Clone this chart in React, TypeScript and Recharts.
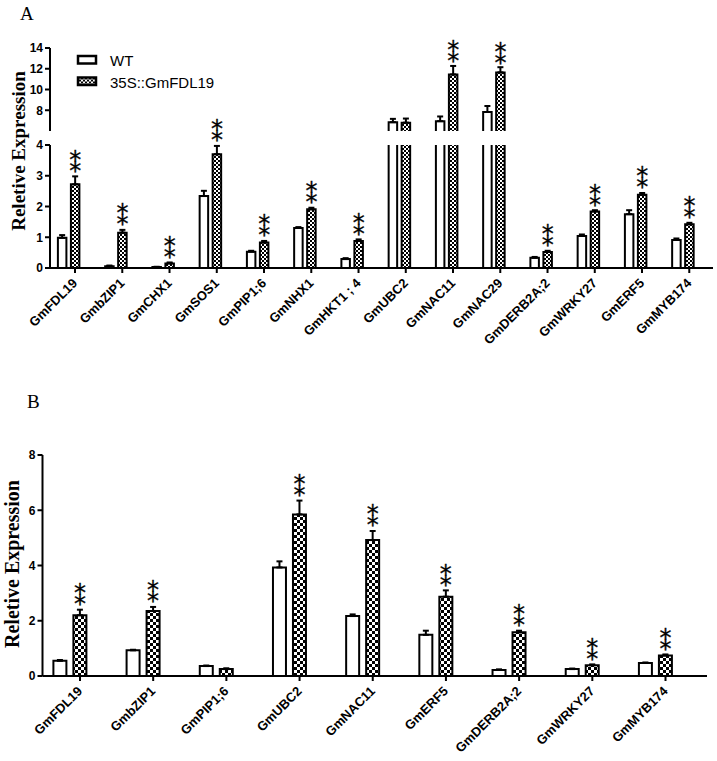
import React from 'react';
import { BarChart, Bar, XAxis, YAxis, ErrorBar, LabelList, Legend } from 'recharts';

const seriesNames = ['WT', '35S::GmFDL19'];

// Panel A
const genesA = ['GmFDL19', 'GmbZIP1', 'GmCHX1', 'GmSOS1', 'GmPIP1;6', 'GmNHX1', 'GmHKT1 ; 4', 'GmUBC2', 'GmNAC11', 'GmNAC29', 'GmDERB2A;2', 'GmWRKY27', 'GmERF5', 'GmMYB174'];
const wtA = [0.98, 0.06, 0.03, 2.34, 0.53, 1.3, 0.29, 6.85, 6.95, 7.83, 0.33, 1.04, 1.75, 0.91];
const wtErrA = [0.09, 0.02, 0.01, 0.17, 0.03, 0.03, 0.03, 0.32, 0.45, 0.58, 0.03, 0.05, 0.13, 0.05];
const mtA = [2.72, 1.15, 0.15, 3.7, 0.83, 1.91, 0.88, 6.8, 11.45, 11.65, 0.52, 1.84, 2.38, 1.42];
const mtErrA = [0.26, 0.09, 0.03, 0.27, 0.05, 0.05, 0.05, 0.4, 0.82, 0.5, 0.04, 0.04, 0.06, 0.05];
const sigA = [true, true, true, true, true, true, true, false, true, true, true, true, true, true];
const ticksALow = [0, 1, 2, 3, 4];
const ticksAHigh = [6, 8, 10, 12, 14];

// Panel B
const genesB = ['GmFDL19', 'GmbZIP1', 'GmPIP1;6', 'GmUBC2', 'GmNAC11', 'GmERF5', 'GmDERB2A;2', 'GmWRKY27', 'GmMYB174'];
const wtB = [0.55, 0.93, 0.36, 3.93, 2.17, 1.49, 0.22, 0.25, 0.47];
const wtErrB = [0.03, 0.02, 0.02, 0.22, 0.06, 0.15, 0.02, 0.02, 0.02];
const mtB = [2.2, 2.35, 0.25, 5.85, 4.92, 2.87, 1.58, 0.39, 0.74];
const mtErrB = [0.2, 0.15, 0.03, 0.5, 0.33, 0.23, 0.06, 0.03, 0.04];
const sigB = [true, true, false, true, true, true, true, true, true];
const ticksB = [0, 2, 4, 6, 8];

type Row = { gene: string; wt: number; wtErr: number; mt: number; mtErr: number; sig: boolean };
const buildRows = (g: string[], w: number[], we: number[], m: number[], me: number[], s: boolean[]): Row[] =>
  g.map((gene, i) => ({ gene, wt: w[i], wtErr: we[i], mt: m[i], mtErr: me[i], sig: s[i] }));

const rowsA = buildRows(genesA, wtA, wtErrA, mtA, mtErrA, sigA);
const rowsB = buildRows(genesB, wtB, wtErrB, mtB, mtErrB, sigB);

const LOW_MAX = 4;
const HIGH_MIN = 6;
const HIGH_MAX = 14;

const SANS = '"Liberation Sans", Arial, sans-serif';
const SERIF = '"Liberation Serif", "Times New Roman", serif';

const makeShape = (openTop: (d: Row) => boolean) => (props: any) => {
  const { x, y, width, height, fill, payload } = props;
  if (x == null || y == null || !width || height == null || isNaN(height)) return <g />;
  const top = height >= 0 ? y : y + height;
  const h = Math.abs(height);
  const bottom = top + h;
  const right = x + width;
  const open = payload ? openTop(payload) : false;
  const d = open
    ? `M${x},${bottom} L${x},${top} M${right},${top} L${right},${bottom}`
    : `M${x},${bottom} L${x},${top} L${right},${top} L${right},${bottom}`;
  return (
    <g>
      <rect x={x} y={top} width={width} height={h} fill={fill} stroke="none" />
      <path d={d} fill="none" stroke="#000" strokeWidth={2} />
    </g>
  );
};

const Stars = ({ viewBox, value, pxPerUnit, near }: any) => {
  if (value == null || !viewBox) return null;
  const cx = viewBox.x + viewBox.width / 2;
  const top = viewBox.height >= 0 ? viewBox.y : viewBox.y + viewBox.height;
  const cap = top - value * pxPerUnit;
  const fs = 24;
  const base = 0.56 * fs;
  return (
    <text textAnchor="middle" fontSize={fs} fontFamily='"DejaVu Sans", sans-serif' fill="#000" stroke="#000" strokeWidth={0.3}>
      <tspan x={cx} y={cap - near - 11 + base}>*</tspan>
      <tspan x={cx} y={cap - near + base}>*</tspan>
    </text>
  );
};

const makeTick = (dx: number) => (props: any) => {
  const { x, y, payload } = props;
  const tx = x + dx;
  return (
    <g>
      <line x1={tx} y1={y} x2={tx} y2={y + 5} stroke="#000" strokeWidth={2} />
      <text transform={`translate(${tx + 3},${y + 16}) rotate(-45)`} textAnchor="end" fontSize={13} fontWeight="bold" fontFamily={SANS} fill="#000">
        {payload.value}
      </text>
    </g>
  );
};

const YTitle = ({ cx, cy, size }: any) => (
  <text transform={`translate(${cx},${cy}) rotate(-90)`} textAnchor="middle" dominantBaseline="central" fontFamily={SERIF} fontWeight="bold" fontSize={size} fill="#000">
    Reletive Expression
  </text>
);

const LegendContent = (props: any) => {
  const items = [...(props.payload ?? [])].sort((a: any, b: any) => seriesNames.indexOf(a.value) - seriesNames.indexOf(b.value));
  return (
    <svg width={170} height={42} style={{ display: 'block', overflow: 'visible' }}>
      {items.map((it: any, i: number) => (
        <g key={it.value} transform={`translate(0, ${i * 21.5})`}>
          <rect x={3} y={4} width={18} height={7.5} fill={it.color} stroke="#000" strokeWidth={2.5} />
          <text x={35} y={14} fontSize={15} fontFamily={SANS} fill="#000">{it.value}</text>
        </g>
      ))}
    </svg>
  );
};

const Checker = ({ id, cell }: { id: string; cell: number }) => (
  <defs>
    <pattern id={id} width={cell * 2} height={cell * 2} patternUnits="userSpaceOnUse">
      <rect width={cell * 2} height={cell * 2} fill="#000" />
      <rect x={0} y={0} width={cell} height={cell} fill="#fff" />
      <rect x={cell} y={cell} width={cell} height={cell} fill="#fff" />
    </pattern>
  </defs>
);

const yTick = { fill: '#000', fontSize: 12, fontWeight: 'bold', fontFamily: SANS };
const axisLine = { stroke: '#000', strokeWidth: 2 };
const tickLine = { stroke: '#000', strokeWidth: 2 };

// geometry
const W = 717;
const A_LEFT = 50;
const A_RIGHT = 4;
const A_PAD = { left: -5.1, right: 6.6 };
const A_BAR = 8.5;
const A_GAP = 4.5;
const A_LOW_TOP = 145;
const A_LOW_H = 123;
const A_HIGH_TOP = 48;
const A_HIGH_H = 83;

const B_TOP = 400;
const B_LEFT = 42.5;
const B_RIGHT = 10;
const B_PAD = { left: -9.1, right: 14.9 };
const B_BAR = 13;
const B_GAP = 7;
const B_PLOT_TOP = 55;
const B_PLOT_H = 221;

export default function App() {
  const lowPx = A_LOW_H / (LOW_MAX - 0);
  const highPx = A_HIGH_H / (HIGH_MAX - HIGH_MIN);
  const bPx = B_PLOT_H / 8;
  return (
    <div style={{ position: 'absolute', left: 0, top: 0, width: W, height: 761, background: '#fff' }}>
      {/* Panel letters */}
      <div style={{ position: 'absolute', left: 20, top: 4, fontFamily: SERIF, fontSize: 19, lineHeight: '19px' }}>A</div>
      <div style={{ position: 'absolute', left: 27, top: 392, fontFamily: SERIF, fontSize: 19, lineHeight: '19px' }}>B</div>

      {/* Panel A - lower segment */}
      <div style={{ position: 'absolute', left: 0, top: 0 }}>
        <BarChart width={W} height={A_LOW_TOP + A_LOW_H + 100} data={rowsA} margin={{ top: A_LOW_TOP, right: A_RIGHT, bottom: 0, left: 0 }} barSize={A_BAR} barGap={A_GAP}>
          <Checker id="chkA" cell={2} />
          <XAxis dataKey="gene" type="category" interval={0} height={100} padding={A_PAD} axisLine={axisLine} tickLine={false} tickSize={0} tickMargin={0} tick={makeTick((A_BAR + A_GAP) / 2)} />
          <YAxis type="number" domain={[0, LOW_MAX]} ticks={ticksALow} width={A_LEFT} axisLine={axisLine} tickLine={tickLine} tickSize={5} tickMargin={2} tick={yTick} label={<YTitle cx={18.5} cy={151} size={19} />} />
          <Bar dataKey={(d: Row) => Math.min(d.wt, LOW_MAX)} name={seriesNames[0]} fill="#fff" isAnimationActive={false} shape={makeShape((d) => d.wt > LOW_MAX)}>
            <ErrorBar dataKey={(d: Row) => (d.wt > LOW_MAX ? null : [0, d.wtErr])} width={3} strokeWidth={2} stroke="#000" direction="y" />
          </Bar>
          <Bar dataKey={(d: Row) => Math.min(d.mt, LOW_MAX)} name={seriesNames[1]} fill="url(#chkA)" isAnimationActive={false} shape={makeShape((d) => d.mt > LOW_MAX)}>
            <ErrorBar dataKey={(d: Row) => (d.mt > LOW_MAX ? null : [0, d.mtErr])} width={3} strokeWidth={2} stroke="#000" direction="y" />
            <LabelList dataKey={(d: Row) => (d.sig && d.mt <= LOW_MAX ? d.mtErr : null)} content={(p: any) => <Stars {...p} pxPerUnit={lowPx} near={11} />} />
          </Bar>
        </BarChart>
      </div>

      {/* Panel A - upper segment */}
      <div style={{ position: 'absolute', left: 0, top: 0 }}>
        <BarChart width={W} height={A_HIGH_TOP + A_HIGH_H} data={rowsA} margin={{ top: A_HIGH_TOP, right: A_RIGHT, bottom: 0, left: 0 }} barSize={A_BAR} barGap={A_GAP}>
          <Checker id="chkA2" cell={2} />
          <XAxis dataKey="gene" type="category" hide padding={A_PAD} />
          <YAxis type="number" domain={[HIGH_MIN, HIGH_MAX]} ticks={ticksAHigh} width={A_LEFT} axisLine={axisLine} tickLine={tickLine} tickSize={5} tickMargin={2} tick={yTick} />
          <Legend layout="horizontal" align="center" verticalAlign="middle" content={<LegendContent />} wrapperStyle={{ position: 'absolute', left: 75, top: 52, width: 170, height: 42 }} />
          <Bar dataKey={(d: Row) => (d.wt > HIGH_MIN ? d.wt : null)} name={seriesNames[0]} fill="#fff" isAnimationActive={false} shape={makeShape(() => false)}>
            <ErrorBar dataKey={(d: Row) => (d.wt > HIGH_MIN ? [0, d.wtErr] : null)} width={3} strokeWidth={2} stroke="#000" direction="y" />
          </Bar>
          <Bar dataKey={(d: Row) => (d.mt > HIGH_MIN ? d.mt : null)} name={seriesNames[1]} fill="url(#chkA2)" isAnimationActive={false} shape={makeShape(() => false)}>
            <ErrorBar dataKey={(d: Row) => (d.mt > HIGH_MIN ? [0, d.mtErr] : null)} width={3} strokeWidth={2} stroke="#000" direction="y" />
            <LabelList dataKey={(d: Row) => (d.sig && d.mt > HIGH_MIN ? d.mtErr : null)} content={(p: any) => <Stars {...p} pxPerUnit={highPx} near={10} />} />
          </Bar>
        </BarChart>
      </div>

      {/* Panel B */}
      <div style={{ position: 'absolute', left: 0, top: B_TOP }}>
        <BarChart width={W} height={B_PLOT_TOP + B_PLOT_H + 85} data={rowsB} margin={{ top: B_PLOT_TOP, right: B_RIGHT, bottom: 0, left: 0 }} barSize={B_BAR} barGap={B_GAP}>
          <Checker id="chkB" cell={3} />
          <XAxis dataKey="gene" type="category" interval={0} height={85} padding={B_PAD} axisLine={axisLine} tickLine={false} tickSize={0} tickMargin={0} tick={makeTick((B_BAR + B_GAP) / 2)} />
          <YAxis type="number" domain={[0, 8]} ticks={ticksB} width={B_LEFT} axisLine={axisLine} tickLine={tickLine} tickSize={5} tickMargin={2} tick={yTick} label={<YTitle cx={11.5} cy={164} size={20} />} />
          <Bar dataKey="wt" name={seriesNames[0]} fill="#fff" isAnimationActive={false} shape={makeShape(() => false)}>
            <ErrorBar dataKey={(d: Row) => [0, d.wtErr]} width={3} strokeWidth={2} stroke="#000" direction="y" />
          </Bar>
          <Bar dataKey="mt" name={seriesNames[1]} fill="url(#chkB)" isAnimationActive={false} shape={makeShape(() => false)}>
            <ErrorBar dataKey={(d: Row) => [0, d.mtErr]} width={3} strokeWidth={2} stroke="#000" direction="y" />
            <LabelList dataKey={(d: Row) => (d.sig ? d.mtErr : null)} content={(p: any) => <Stars {...p} pxPerUnit={bPx} near={11} />} />
          </Bar>
        </BarChart>
      </div>
    </div>
  );
}
